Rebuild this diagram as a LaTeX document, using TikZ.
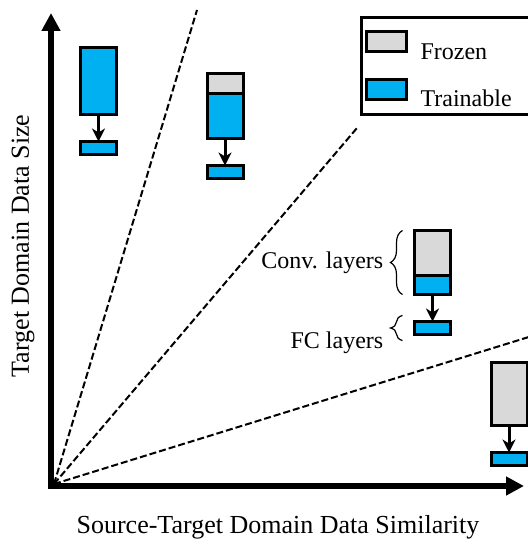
\documentclass[tikz,border=0pt]{standalone}
\usepackage{fontspec}
\setmainfont{Liberation Serif}
\usepackage{xcolor}
\usetikzlibrary{arrows.meta,positioning,decorations.pathreplacing}
\definecolor{trainblue}{HTML}{00B0F0}
\definecolor{frozengray}{HTML}{D9D9D9}

\begin{document}
\begin{tikzpicture}[
  x=0.5pt,y=-0.5pt,
  node distance=13.5pt,
  font=\fontsize{12}{14}\selectfont,
  layer/.style={draw,line width=1.5pt,outer sep=0pt,inner sep=0pt,minimum width=18pt},
  frozen/.style={layer,fill=frozengray},
  trainable/.style={layer,fill=trainblue},
  fc/.style={trainable,minimum height=6.5pt},
  arrow/.style={-{Stealth[length=6.5pt,width=6.5pt,inset=2pt]},line width=1.5pt},
  axis/.style={{Triangle[length=9pt,width=9pt]}-{Triangle[length=9pt,width=9pt]},line width=3pt},
  axislabel/.style={font=\fontsize{13}{15}\selectfont},
  split/.style={dash pattern=on 3.5pt off 1.5pt,line width=1pt},
  curly/.style={decorate,decoration={brace,amplitude=6pt},line width=0.6pt}
]
\useasboundingbox (0,0) rectangle (528,545);

% axes and region borders
\coordinate (o) at (51,486);
\coordinate (ytip) at (51,13);
\coordinate (xtip) at (524,486);
\coordinate (fan) at (54,484);
\coordinate (sp1) at (197,10);
\coordinate (sp2) at (357,128);
\coordinate (sp3) at (532,336);
\draw[split] (fan) -- (sp1);
\draw[split] (fan) -- (sp2);
\draw[split] (fan) -- (sp3);
\draw[axis] (ytip) -- (o) -- (xtip);
\node[axislabel,rotate=90] (ylabel) at (23,246) {Target Domain Data Size};
\node[axislabel] (xlabel) at (278,527) {Source-Target Domain Data Similarity};

% train everything
\node[trainable,minimum height=33.5pt,anchor=north] (aconv) at (98.5,47.5) {};
\node[fc,below=of aconv] (afc) {};
\draw[arrow] (aconv) -- (afc);

% fine-tune the upper layers
\node[frozen,minimum height=10pt,anchor=north] (bgray) at (225,73.5) {};
\node[trainable,minimum height=22.5pt,below=0pt of bgray] (bconv) {};
\node[fc,below=of bconv] (bfc) {};
\draw[arrow] (bconv) -- (bfc);

% fine-tune the last layers
\node[frozen,minimum height=22.5pt,anchor=north] (cgray) at (432.5,230.5) {};
\node[trainable,minimum height=9.5pt,below=0pt of cgray] (cconv) {};
\node[fc,below=of cconv] (cfc) {};
\draw[arrow] (cconv) -- (cfc);
\draw[curly] ([xshift=-6pt]cconv.south west) -- ([xshift=-6pt]cgray.north west)
  node[midway,left=6pt] {Conv. layers};
\draw[curly] ([xshift=-6pt,yshift=-3pt]cfc.south west) -- ([xshift=-6pt,yshift=3pt]cfc.north west)
  node[midway,left=6pt,yshift=-7.5pt] {FC layers};

% freeze all conv layers
\node[frozen,minimum height=31.5pt,anchor=north] (dgray) at (509,362.5) {};
\node[fc,below=of dgray] (dfc) {};
\draw[arrow] (dgray) -- (dfc);

% legend
\node[draw,line width=1.5pt,inner sep=0pt,minimum width=90pt,minimum height=48.5pt,anchor=north west] (legend) at (359.5,16.5) {};
\node[frozen,minimum width=20pt,minimum height=10pt] (kfrozen) at (386.5,42) {};
\node[trainable,minimum width=20pt,minimum height=10pt] (ktrain) at (386.5,89.5) {};
\node[right=3.5pt of kfrozen,yshift=-5pt] (tfrozen) {Frozen};
\node[right=3.5pt of ktrain,yshift=-4.5pt] (ttrain) {Trainable};
\end{tikzpicture}
\end{document}
